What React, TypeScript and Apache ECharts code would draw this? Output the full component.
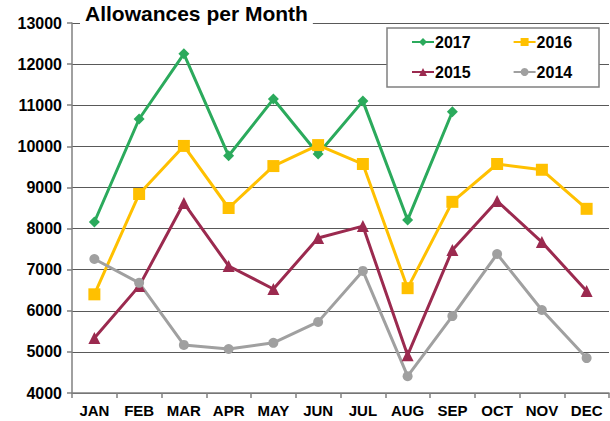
import React, { useEffect, useRef } from "react";
import * as echarts from "echarts";

const months = ["JAN", "FEB", "MAR", "APR", "MAY", "JUN", "JUL", "AUG", "SEP", "OCT", "NOV", "DEC"];
const s2017 = [8160, 10665, 12250, 9770, 11150, 9815, 11100, 8210, 10840, null, null, null];
const s2016 = [6400, 8840, 10010, 8500, 9520, 10030, 9570, 6550, 8650, 9570, 9430, 8480];
const s2015 = [5340, 6600, 8620, 7090, 6530, 7770, 8060, 4920, 7480, 8670, 7670, 6480];
const s2014 = [7260, 6680, 5170, 5070, 5220, 5730, 6970, 4410, 5870, 7380, 6020, 4850];
const yTicks = { min: 4000, max: 13000, interval: 1000 };

const FONT = "'Liberation Sans', Arial, sans-serif";

export default function App() {
  const ref = useRef<HTMLDivElement>(null);
  useEffect(() => {
    const chart = echarts.init(ref.current!, null, { renderer: "svg" });
    const mk = (name: string, data: any[], color: string, symbol: string, size: number) => ({
      name,
      type: "line",
      data,
      symbol,
      symbolSize: size,
      lineStyle: { color, width: 3 },
      itemStyle: { color },
      z: 3,
    });
    const legendCommon = {
      itemWidth: 22,
      itemHeight: 10,
      itemGap: 42,
      padding: 0,
      textStyle: { fontFamily: FONT, fontWeight: "bold", fontSize: 16, color: "#000", padding: [0, 0, 0, -4] },
      z: 11,
    };
    chart.setOption({
      animation: false,
      backgroundColor: "#fff",
      textStyle: { fontFamily: FONT },
      grid: { left: 72, right: 1, top: 23, bottom: 28, containLabel: false },
      title: {
        text: "Allowances per Month",
        left: 80,
        top: 3,
        padding: [0, 5, 0, 5],
        backgroundColor: "#fff",
        textStyle: { fontFamily: FONT, fontWeight: "bold", fontSize: 21, color: "#000" },
        z: 10,
      },
      graphic: [
        {
          type: "rect",
          shape: { x: 387, y: 28, width: 212, height: 59 },
          style: { fill: "#fff", stroke: "#808080", lineWidth: 1.5 },
          z: 10,
        },
      ],
      legend: [
        { ...legendCommon, left: 411, top: 34, data: ["2017", "2016"] },
        { ...legendCommon, left: 411, top: 64, data: ["2015", "2014"] },
      ],
      xAxis: {
        type: "category",
        data: months,
        boundaryGap: true,
        axisLine: { lineStyle: { color: "#808080", width: 1.5 } },
        axisTick: { show: true, alignWithLabel: false, length: 5, lineStyle: { color: "#808080", width: 1.5 } },
        axisLabel: { fontFamily: FONT, fontWeight: "bold", fontSize: 15, color: "#000", margin: 10 },
      },
      yAxis: {
        type: "value",
        min: yTicks.min,
        max: yTicks.max,
        interval: yTicks.interval,
        axisLine: { show: true, lineStyle: { color: "#808080", width: 1.5 } },
        axisTick: { show: true, length: 5, lineStyle: { color: "#808080", width: 1.5 } },
        axisLabel: {
          fontFamily: FONT,
          fontWeight: "bold",
          fontSize: 16,
          color: "#000",
          margin: 10,
          formatter: (v: number) => String(v),
        },
        splitLine: { show: true, lineStyle: { color: "#595959", width: 1.2 } },
      },
      series: [
        mk("2017", s2017, "#2BAA5C", "diamond", 11),
        mk("2016", s2016, "#FFC000", "rect", 12),
        mk("2015", s2015, "#9B2A4F", "triangle", 12),
        mk("2014", s2014, "#A0A0A0", "circle", 10),
      ],
    });
    return () => chart.dispose();
  }, []);
  return <div ref={ref} style={{ width: 610, height: 421, position: "absolute", left: 0, top: 0 }} />;
}
